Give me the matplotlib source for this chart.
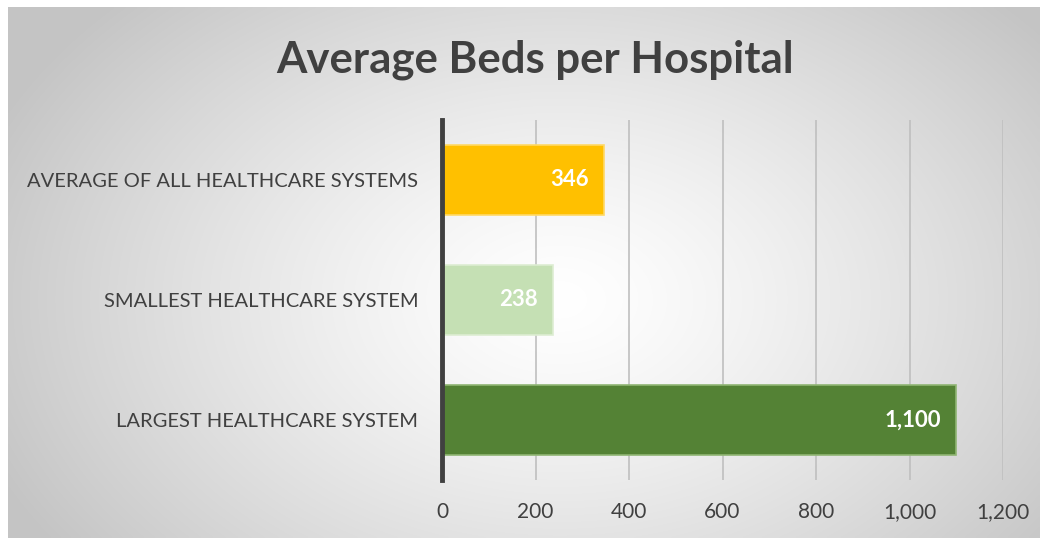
import numpy as np
import matplotlib
matplotlib.use("Agg")
import matplotlib.pyplot as plt
from matplotlib.ticker import FuncFormatter

categories = ["LARGEST HEALTHCARE SYSTEM", "SMALLEST HEALTHCARE SYSTEM", "AVERAGE OF ALL HEALTHCARE SYSTEMS"]
values = [1100, 238, 346]
bar_colors = ["#548235", "#C5E0B4", "#FFC000"]
edge_colors = ["#8FB573", "#DDEDD2", "#FFD966"]
title = "Average Beds per Hospital"
xticks = [0, 200, 400, 600, 800, 1000, 1200]

W, H = 1050, 538
fig = plt.figure(figsize=(W / 100, H / 100), dpi=100)
fig.patch.set_facecolor("white")

# radial gradient background
bg = fig.add_axes([0, 0, 1, 1])
bg.set_xlim(0, W)
bg.set_ylim(H, 0)
bg.axis("off")
x0, x1, y0, y1 = 8, 1040, 7, 538
xs = np.linspace(x0, x1, 400)
ys = np.linspace(y0, y1, 220)
X, Y = np.meshgrid(xs, ys)
cx, cy = 560, 300
r = np.sqrt(((X - cx) / 620) ** 2 + ((Y - cy) / 430) ** 2)
r = np.clip(r, 0, 1)
val = 1.0 - 0.23 * r ** 1.3
img = np.dstack([val, val, val])
bg.imshow(img, extent=[x0, x1, y1, y0], aspect="auto", interpolation="bilinear", zorder=0)

plt.rcParams["font.family"] = ["Lato", "DejaVu Sans"]
txt = "#404040"

ax = fig.add_axes([442 / W, 1 - 480 / H, (1003 - 442) / W, 360 / H])
ax.set_facecolor("none")
ypos = np.arange(len(categories))
bars = ax.barh(ypos, values, height=0.585, color=bar_colors, edgecolor=edge_colors, linewidth=1.2, zorder=3)
ax.set_xlim(0, 1200)
ax.set_ylim(-0.5, len(categories) - 0.5)
ax.set_xticks(xticks)
ax.xaxis.set_major_formatter(FuncFormatter(lambda v, p: f"{int(v):,}"))
ax.set_yticks(ypos)
ax.set_yticklabels(categories)
ax.tick_params(axis="x", length=0, pad=16, labelsize=15, labelcolor=txt)
ax.tick_params(axis="y", length=0, pad=17, labelsize=14.5, labelcolor=txt)
ax.grid(axis="x", color="#BFBFBF", linewidth=1.2, zorder=0)
for s in ["top", "right", "bottom"]:
    ax.spines[s].set_visible(False)
ax.spines["left"].set_linewidth(3.5)
ax.spines["left"].set_color("#404040")
ax.spines["left"].set_zorder(5)

for b, v in zip(bars, values):
    ax.annotate(f"{v:,}", xy=(v, b.get_y() + b.get_height() / 2), xytext=(-11, 0),
                textcoords="offset points", ha="right", va="center",
                color="white", fontsize=16, fontweight="bold", zorder=6)

fig.text(535 / W, 1 - 60 / H, title, ha="center", va="center", fontsize=31.5,
         fontweight="bold", color=txt)

fig.savefig("out.png", dpi=100)
